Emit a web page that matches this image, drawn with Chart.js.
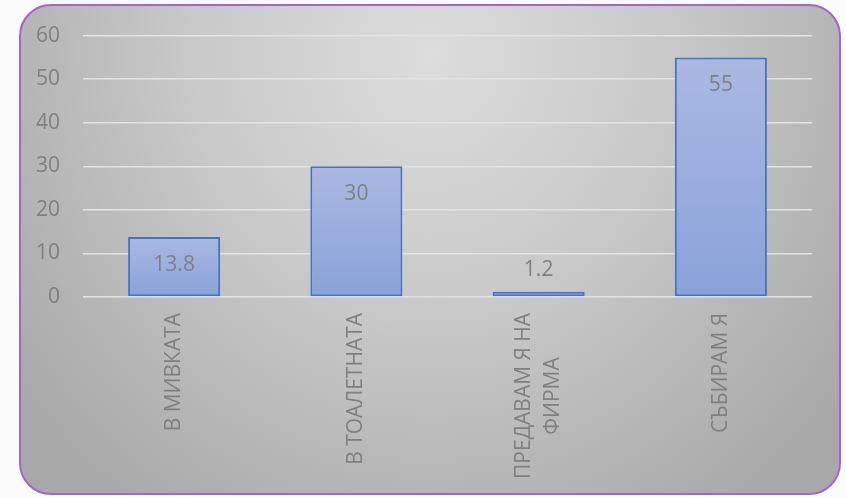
<!DOCTYPE html>
<html>
<head>
<meta charset="utf-8">
<script src="https://cdn.jsdelivr.net/npm/chart.js@4/dist/chart.umd.min.js"></script>
<style>
    html, body { margin: 0; padding: 0; background: #fbfbfb; }
    #wrap { position: relative; width: 846px; height: 498px; overflow: hidden; }
    #panel {
        position: absolute; left: 19px; top: 4px; width: 822px; height: 491px;
        box-sizing: border-box; border: 2.5px solid #a660d8; border-radius: 32px;
        background: radial-gradient(ellipse 520px 560px at 50% 10%, #dcdcdc 0%, #c9c9c9 45%, #b7b7b7 75%, #a8a8a8 100%);
    }
    #chart { position: absolute; left: 0; top: 0; }
</style>
</head>
<body>
<div id="wrap">
    <div id="panel"></div>
    <canvas id="chart" width="846" height="498"></canvas>
</div>
<script>
// Данни
const categories = ['В МИВКАТА', 'В ТОАЛЕТНАТА', ['ПРЕДАВАМ Я НА', 'ФИРМА'], 'СЪБИРАМ Я'];
const values = [13.8, 30, 1.2, 55];
const yTicks = [0, 10, 20, 30, 40, 50, 60];

const textColor = '#808080';
const fontSize = 21;
const lineH = 1.4;

Chart.defaults.font.family = '"Open Sans", "DejaVu Sans", sans-serif';

// Градиент за всяка колона (светло горе, по-тъмно долу)
function barFill(ctx) {
    const chart = ctx.chart;
    const y = chart.scales.y;
    if (!y || ctx.raw === undefined) return '#99ace0';
    const top = y.getPixelForValue(ctx.raw);
    const base = y.getPixelForValue(0);
    if (!isFinite(top) || !isFinite(base) || top === base) return '#99ace0';
    const g = chart.ctx.createLinearGradient(0, top, 0, base);
    g.addColorStop(0, '#aab8e2');
    g.addColorStop(1, '#8aa2d9');
    return g;
}

// Етикетите на два реда: центрирани около колоната и по средата един спрямо друг
const centerMultiline = {
    id: 'centerMultiline',
    beforeDraw(chart) {
        const xs = chart.scales.x;
        if (!xs.getLabelItems) return;
        const items = xs.getLabelItems();
        if (items._split) return;
        const lh = fontSize * lineH;
        const out = [];
        items.forEach(it => {
            if (!Array.isArray(it.label)) { out.push(it); return; }
            const opts = it.options;
            chart.ctx.save();
            chart.ctx.font = it.font.string;
            const widths = it.label.map(t => chart.ctx.measureText(t).width);
            chart.ctx.restore();
            const maxW = Math.max(...widths);
            const n = it.label.length;
            it.label.forEach((line, i) => {
                out.push({
                    label: line,
                    font: it.font,
                    textOffset: it.textOffset,
                    options: Object.assign({}, opts, {
                        translation: [
                            opts.translation[0] + (i - (n - 1) / 2) * lh,
                            opts.translation[1] + (maxW - widths[i]) / 2
                        ]
                    })
                });
            });
        });
        items.length = 0;
        out.forEach(o => items.push(o));
        items._split = true;
    }
};

// Стойности над/в колоните
const valueLabels = {
    id: 'valueLabels',
    afterDatasetsDraw(chart) {
        const ctx = chart.ctx;
        const meta = chart.getDatasetMeta(0);
        ctx.save();
        ctx.font = fontSize + 'px ' + Chart.defaults.font.family;
        ctx.fillStyle = textColor;
        ctx.textAlign = 'center';
        ctx.textBaseline = 'middle';
        meta.data.forEach((bar, i) => {
            const h = bar.base - bar.y;
            const ty = h > 40 ? bar.y + 28 : bar.y - 22;
            ctx.fillText(String(values[i]), bar.x, ty);
        });
        ctx.restore();
    }
};

new Chart(document.getElementById('chart'), {
    type: 'bar',
    data: {
        labels: categories,
        datasets: [{
            data: values,
            backgroundColor: barFill,
            borderColor: '#4472c4',
            borderWidth: 2,
            borderSkipped: false,
            categoryPercentage: 1,
            barPercentage: 0.505
        }]
    },
    options: {
        responsive: false,
        animation: false,
        devicePixelRatio: 1,
        layout: { padding: { left: 21, top: 34, right: 34, bottom: 21 } },
        plugins: {
            legend: { display: false },
            tooltip: { enabled: false }
        },
        scales: {
            y: {
                min: 0,
                max: 60,
                afterFit: s => { s.width = 62; },
                afterBuildTicks: s => { s.ticks = yTicks.map(v => ({ value: v })); },
                ticks: { color: textColor, font: { size: fontSize }, padding: 23 },
                grid: { color: '#e3e3e3', lineWidth: 1.5, drawTicks: false },
                border: { display: false }
            },
            x: {
                afterFit: s => { s.height = 180; },
                ticks: {
                    color: textColor,
                    font: { size: fontSize, lineHeight: lineH },
                    minRotation: 90,
                    maxRotation: 90,
                    autoSkip: false,
                    padding: 16
                },
                grid: { display: false, drawTicks: false },
                border: { display: false }
            }
        }
    },
    plugins: [centerMultiline, valueLabels]
});
</script>
</body>
</html>
